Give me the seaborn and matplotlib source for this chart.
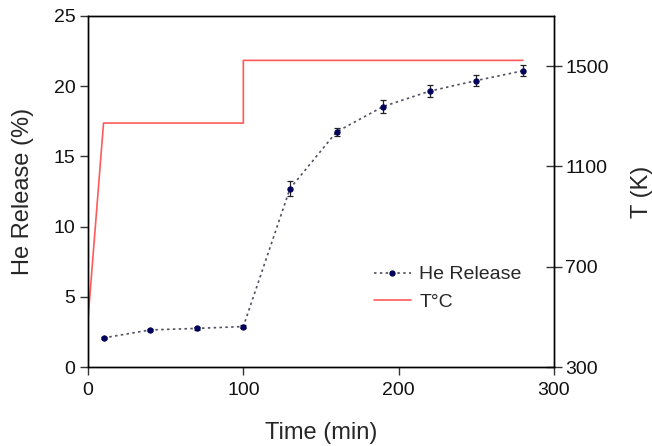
import matplotlib
matplotlib.use("Agg")
import matplotlib.pyplot as plt
import seaborn as sns
import pandas as pd
from matplotlib.lines import Line2D

sns.set_style("white")
plt.rcParams['font.family'] = ['Liberation Sans', 'DejaVu Sans']

time_min = [10, 40, 70, 100, 130, 160, 190, 220, 250, 280]
he_release = [2.07, 2.64, 2.75, 2.88, 12.7, 16.75, 18.55, 19.65, 20.4, 21.1]
he_err = [0.1, 0.1, 0.08, 0.1, 0.55, 0.3, 0.45, 0.45, 0.4, 0.4]

temp_time = [0, 10, 100, 100, 280]
temp_k = [490, 1273, 1273, 1523, 1523]

x_ticks = [0, 100, 200, 300]
y_ticks = [0, 5, 10, 15, 20, 25]
t_ticks = [300, 700, 1100, 1500]

df_he = pd.DataFrame({"time": time_min, "he": he_release})
df_t = pd.DataFrame({"time": temp_time, "T": temp_k})

fig = plt.figure(figsize=(6.52, 4.46), dpi=100)
ax = fig.add_axes([88/652, 1-367/446, (554-88)/652, (367-16)/446])
ax2 = ax.twinx()

line_col = "#505060"
mark_col = "#00005a"
red = "#ff5a5a"

sns.lineplot(data=df_t, x="time", y="T", ax=ax2, color=red, lw=1.2,
             sort=False, estimator=None, legend=False)
ax.errorbar(time_min, he_release, yerr=he_err, fmt="none", ecolor="#222222",
            elinewidth=0.9, capsize=2.5, capthick=0.9, zorder=3)
sns.lineplot(data=df_he, x="time", y="he", ax=ax, color=line_col, lw=1.2,
             linestyle=(0, (1.5, 2.0)), marker="o", markersize=3.8,
             markerfacecolor=mark_col, markeredgecolor=mark_col,
             sort=False, estimator=None, legend=False, zorder=4)
ax.set_zorder(ax2.get_zorder() + 1)
ax.patch.set_visible(False)

ax.set_xlim(0, 300)
ax.set_ylim(0, 25)
ax2.set_ylim(300, 1700)
ax.set_xticks(x_ticks)
ax.set_yticks(y_ticks)
ax2.set_yticks(t_ticks)

for a in (ax, ax2):
    for s in a.spines.values():
        s.set_color("black")
        s.set_linewidth(1.0)

ax.tick_params(axis="both", direction="out", length=6, width=1, color="#333333",
               labelsize=14, labelcolor="#111111", bottom=True, left=True, pad=3)
ax.tick_params(axis="x", pad=5)
ax2.tick_params(axis="y", direction="inout", length=12, width=1, color="#333333",
                labelsize=14, labelcolor="#111111", right=True, pad=2)

ax.set_xlabel("Time (min)", fontsize=17, labelpad=16)
ax.set_ylabel("He Release (%)", fontsize=17, labelpad=14)
ax2.set_ylabel("T (K)", fontsize=17, labelpad=16)

handles = [
    Line2D([], [], color=line_col, lw=1.2, linestyle=(0, (1.5, 2.0)), marker="o",
           markersize=3.5, markerfacecolor=mark_col, markeredgecolor=mark_col),
    Line2D([], [], color=red, lw=1.2),
]
ax.legend(handles, ["He Release", "T°C"], loc="upper left",
          bbox_to_anchor=((366-88)/466, 1-(258-16)/351), frameon=False,
          fontsize=14, handlelength=1.9, handletextpad=0.45, labelspacing=0.5,
          borderaxespad=0)

fig.savefig("out.png", dpi=100)
